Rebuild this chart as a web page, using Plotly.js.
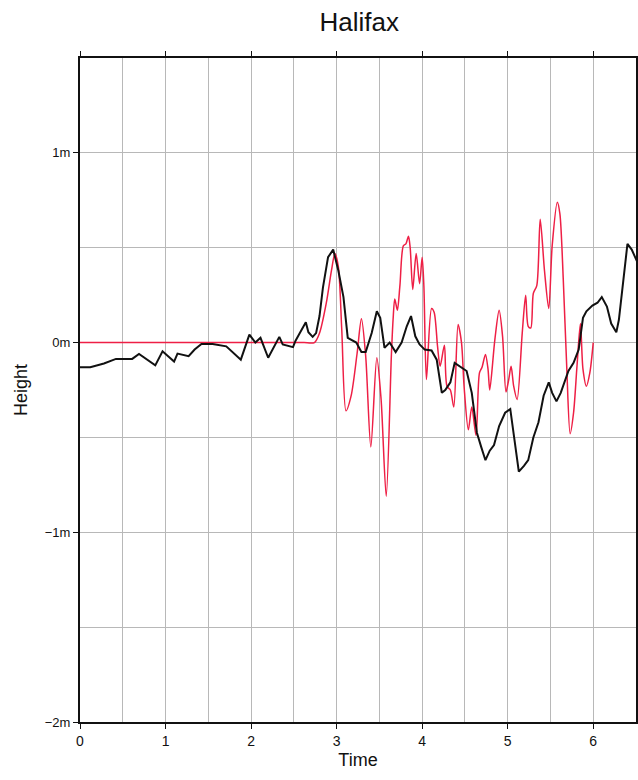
<!DOCTYPE html>
<html>
<head>
<meta charset="utf-8">
<script src="https://cdn.plot.ly/plotly-3.0.1.min.js"></script>
<style>html,body{margin:0;padding:0;background:#fff;}#chart{width:638px;height:780px;}</style>
</head>
<body>
<div id="chart"></div>
<script>
// Observed series (black)
const obsTime = [0.00,0.12,0.28,0.42,0.61,0.69,0.88,0.965,1.10,1.14,1.27,1.34,1.42,1.55,1.71,1.88,1.98,2.05,2.11,2.20,2.33,2.37,2.49,2.52,2.57,2.64,2.67,2.72,2.76,2.80,2.84,2.90,2.96,3.02,3.08,3.13,3.23,3.29,3.34,3.41,3.47,3.51,3.56,3.62,3.69,3.76,3.82,3.87,3.92,3.97,4.03,4.11,4.17,4.23,4.27,4.33,4.38,4.44,4.52,4.58,4.64,4.69,4.74,4.79,4.84,4.90,4.97,5.03,5.08,5.13,5.19,5.24,5.30,5.36,5.42,5.48,5.52,5.57,5.62,5.67,5.71,5.77,5.83,5.88,5.92,5.99,6.05,6.10,6.16,6.21,6.27,6.30,6.34,6.40,6.45,6.52];
const obsHeight = [-0.13,-0.13,-0.11,-0.086,-0.086,-0.06,-0.12,-0.046,-0.10,-0.058,-0.072,-0.037,-0.007,-0.007,-0.02,-0.09,0.042,0.0,0.025,-0.08,0.03,-0.01,-0.024,0.01,0.05,0.107,0.055,0.03,0.05,0.14,0.29,0.45,0.49,0.38,0.24,0.025,0.0,-0.05,-0.05,0.05,0.165,0.13,-0.028,0.0,-0.05,0.0,0.086,0.14,0.033,-0.01,-0.037,-0.042,-0.09,-0.265,-0.25,-0.21,-0.107,-0.125,-0.15,-0.265,-0.475,-0.55,-0.62,-0.57,-0.54,-0.44,-0.37,-0.35,-0.53,-0.68,-0.65,-0.62,-0.50,-0.42,-0.28,-0.21,-0.265,-0.31,-0.265,-0.195,-0.15,-0.107,-0.037,0.13,0.165,0.195,0.21,0.24,0.19,0.10,0.054,0.12,0.28,0.52,0.49,0.42];

// Model series (red)
const modTime = [0.00,0.50,1.00,1.50,2.00,2.30,2.50,2.62,2.74,2.80,2.88,2.94,2.98,3.02,3.06,3.11,3.17,3.24,3.29,3.34,3.40,3.47,3.52,3.58,3.64,3.66,3.68,3.71,3.74,3.78,3.81,3.84,3.86,3.89,3.93,3.97,4.00,4.02,4.05,4.11,4.14,4.18,4.21,4.26,4.29,4.33,4.37,4.42,4.46,4.49,4.54,4.58,4.63,4.67,4.70,4.74,4.77,4.79,4.85,4.90,4.94,4.98,5.01,5.04,5.07,5.11,5.17,5.21,5.24,5.27,5.30,5.34,5.38,5.43,5.48,5.52,5.58,5.61,5.65,5.69,5.73,5.77,5.81,5.85,5.88,5.92,5.96,6.00];
const modHeight = [0.0,0.0,0.0,0.0,0.0,0.0,0.0,0.0,0.0,0.05,0.21,0.38,0.47,0.40,0.07,-0.36,-0.28,-0.055,0.125,-0.072,-0.55,-0.08,-0.30,-0.81,-0.07,0.12,0.23,0.17,0.30,0.51,0.52,0.56,0.50,0.28,0.47,0.31,0.45,0.30,-0.195,0.18,0.16,-0.02,-0.125,-0.014,-0.23,-0.25,-0.34,0.095,0.0,-0.23,-0.46,-0.34,-0.49,-0.16,-0.13,-0.063,-0.14,-0.25,0.016,0.17,0.033,-0.26,-0.20,-0.125,-0.23,-0.30,0.05,0.25,0.086,0.077,0.26,0.30,0.65,0.38,0.18,0.51,0.74,0.68,0.33,-0.125,-0.48,-0.37,-0.125,0.10,-0.14,-0.23,-0.16,0.0];

const xTicks = [0,1,2,3,4,5,6];
const yTicks = [1,0,-1,-2];
const yTickText = ['1m','0m','\u22121m','\u22122m'];

const traces = [
  {x: modTime, y: modHeight, type: 'scatter', mode: 'lines',
   line: {color: '#ee1f45', width: 1.5, shape: 'spline', smoothing: 0.8}, hoverinfo: 'skip'},
  {x: obsTime, y: obsHeight, type: 'scatter', mode: 'lines',
   line: {color: '#111111', width: 2}, hoverinfo: 'skip'}
];

const font = 'Liberation Sans, Arial, Helvetica, sans-serif';
const layout = {
  width: 638, height: 780,
  margin: {l: 80, r: 2, t: 58, b: 58},
  paper_bgcolor: '#ffffff', plot_bgcolor: '#ffffff',
  showlegend: false,
  font: {family: font, color: '#111'},
  title: {text: 'Halifax', font: {size: 26, family: font, color: '#111'}, x: 0.563, xanchor: 'center', y: 0.972, yanchor: 'middle'},
  xaxis: {
    range: [0, 6.5], tickvals: xTicks, ticktext: xTicks.map(String),
    ticks: 'outside', ticklen: 5, tickwidth: 1, tickcolor: '#111',
    showline: true, linewidth: 2, linecolor: '#111', mirror: 'ticks',
    showgrid: true, gridcolor: '#b8b8b8', gridwidth: 1,
    minor: {dtick: 0.5, tick0: 0, showgrid: true, gridcolor: '#b8b8b8', gridwidth: 1, ticks: ''},
    zeroline: false,
    tickfont: {size: 14, family: font, color: '#111'},
    title: {text: 'Time', font: {size: 18, family: font, color: '#111'}, standoff: 6}
  },
  yaxis: {
    range: [-2, 1.5], tickvals: yTicks, ticktext: yTickText,
    ticks: 'outside', ticklen: 5, tickwidth: 1, tickcolor: '#111',
    showline: true, linewidth: 2, linecolor: '#111', mirror: 'ticks',
    showgrid: true, gridcolor: '#b8b8b8', gridwidth: 1,
    minor: {dtick: 0.5, tick0: 0, showgrid: true, gridcolor: '#b8b8b8', gridwidth: 1, ticks: ''},
    zeroline: false,
    tickfont: {size: 13, family: font, color: '#111'},
    title: {text: 'Height', font: {size: 18, family: font, color: '#111'}, standoff: 12}
  }
};

Plotly.newPlot('chart', traces, layout, {staticPlot: true, displayModeBar: false});
</script>
</body>
</html>
